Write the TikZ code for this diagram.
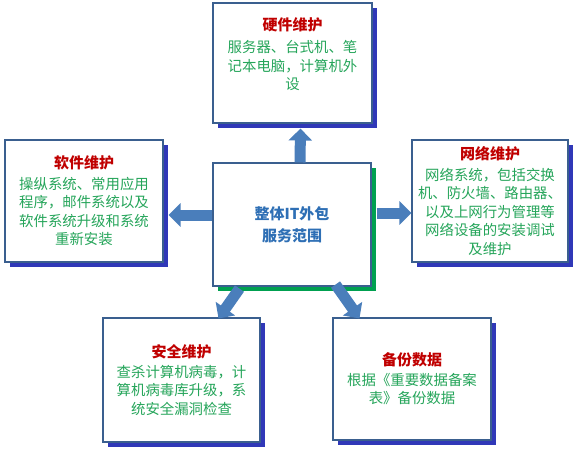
\documentclass[tikz,border=0pt]{standalone}
\usepackage{fontspec}
\setmainfont{Noto Sans CJK SC}
\usepackage{xcolor}
\usepackage{tikz}
\usetikzlibrary{positioning,arrows.meta,shadows}
\definecolor{titlered}{HTML}{C00000}
\definecolor{bodygreen}{HTML}{25A55A}
\definecolor{coreblue}{HTML}{2E6FB5}
\definecolor{edgeblue}{HTML}{3A5F8F}
\definecolor{shadeblue}{HTML}{3038B8}
\definecolor{shadegreen}{HTML}{00A050}
\definecolor{arrowblue}{HTML}{4A7EBB}
\tikzset{
  card/.style={draw=edgeblue,line width=1.1pt,fill=white,align=center,
    minimum width=158pt,minimum height=122pt,inner sep=2pt,
    text=bodygreen,font=\fontsize{14.4pt}{18.5pt}\selectfont,
    drop shadow={shadow xshift=5pt,shadow yshift=-5pt,fill=shadeblue,opacity=1}},
  corecard/.style={card,text=coreblue,font=\bfseries\fontsize{15pt}{22pt}\selectfont,
    drop shadow={shadow xshift=5pt,shadow yshift=-5pt,fill=shadegreen,opacity=1}},
  arr/.style={-{Triangle[width=23pt,length=12pt]},line width=11pt,draw=arrowblue}
}
\newcommand{\cardtitle}[1]{\textcolor{titlered}{\bfseries\fontsize{15pt}{18.5pt}\selectfont #1}}

\begin{document}
\begin{tikzpicture}[x=1pt,y=-1pt]
\useasboundingbox (0,0) rectangle (576,450);

\node[card, minimum width=159pt, minimum height=120pt] (hw) at (292.5,63)
  {\cardtitle{硬件维护}\\[4pt]服务器、台式机、笔\\记本电脑，计算机外\\设\\ \mbox{}};
\node[card] (sw) at (84,201)
  {\cardtitle{软件维护}\\[2pt]操纵系统、常用应用\\程序，邮件系统以及\\软件系统升级和系统\\重新安装};
\node[corecard, minimum height=123pt] (core) at (292,224.5) {整体IT外包\\服务范围};
\node[card, minimum width=156pt] (net) at (490,201)
  {\cardtitle{网络维护}\\[2pt]网络系统，包括交换\\机、防火墙、路由器、\\以及上网行为管理等\\网络设备的安装调试\\及维护};
\node[card, minimum width=157pt, minimum height=124pt] (sec) at (181.5,380)
  {\cardtitle{安全维护}\\[1pt]查杀计算机病毒，计\\算机病毒库升级，系\\统安全漏洞检查};
\node[card] (bak) at (412,379)
  {\cardtitle{备份数据}\\[1pt]根据《重要数据备案\\表》备份数据};

\draw[arr] ([xshift=8pt]core.north) -- ([xshift=8pt,yshift=-5pt]hw.south);
\draw[arr] ([yshift=9.5pt]core.west) -- ([xshift=5pt,yshift=-14pt]sw.east);
\draw[arr] ([xshift=5pt,yshift=11.5pt]core.east) -- ([yshift=-12pt]net.west);
\draw[arr] ([xshift=27pt,yshift=-2pt]core.south west) -- ([xshift=37pt,yshift=-1pt]sec.north);
\draw[arr] ([xshift=-36pt,yshift=2pt]core.south east) -- ([xshift=27pt,yshift=-1pt]bak.north west);
\end{tikzpicture}
\end{document}
